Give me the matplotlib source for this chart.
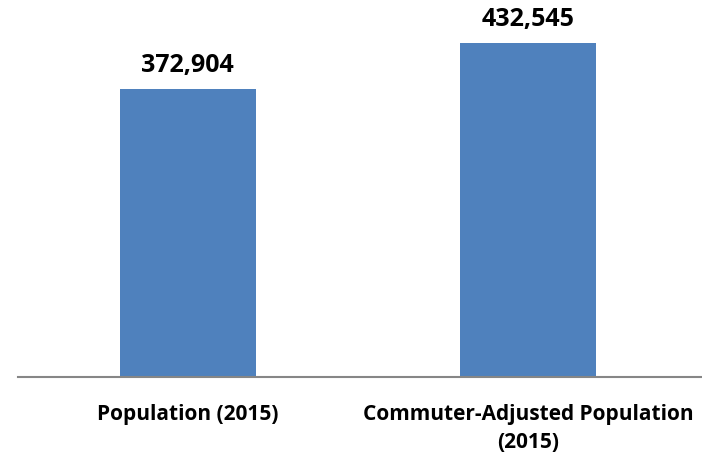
import matplotlib.pyplot as plt

# data
categories = ["Population (2015)", "Commuter-Adjusted Population\n(2015)"]
values = [372904, 432545]

bar_color = "#4F81BD"
axis_color = "#868686"
font = ["Open Sans", "DejaVu Sans"]

fig = plt.figure(figsize=(7.02, 4.56), dpi=100)
ax = fig.add_axes([0.025, 0.171, 0.975, 0.829])

x = list(range(len(categories)))
bars = ax.bar(x, values, width=0.4, color=bar_color)

ax.set_xlim(-0.5, 1.51)
ax.set_ylim(0, 490000)

# value labels above bars
for b, v in zip(bars, values):
    ax.annotate(f"{v:,}", (b.get_x() + b.get_width() / 2, v),
                xytext=(0, 9), textcoords="offset points",
                ha="center", va="bottom", fontsize=18, fontweight="bold",
                family=font, color="black")

ax.set_xticks(x)
ax.set_xticklabels(categories, fontsize=15, fontweight="bold", family=font,
                   linespacing=1.4)
ax.tick_params(axis="x", length=0, pad=19)
ax.set_yticks([])

for s in ["top", "right", "left"]:
    ax.spines[s].set_visible(False)
ax.spines["bottom"].set_color(axis_color)
ax.spines["bottom"].set_linewidth(1.5)

fig.savefig("out.png", dpi=100)
